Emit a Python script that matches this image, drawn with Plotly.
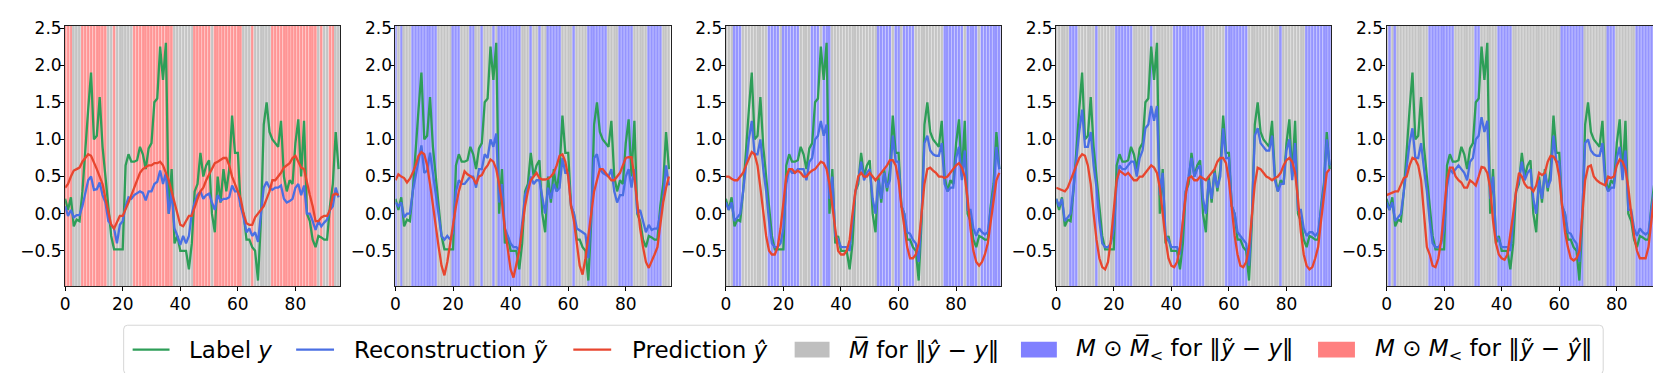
import plotly.graph_objects as go

W, H = 1661, 373

# ---------------- data ----------------
X = list(range(96))
X_TICKS = [0, 20, 40, 60, 80]
Y_TICKS = [-0.5, 0.0, 0.5, 1.0, 1.5, 2.0, 2.5]

LABEL_Y = [
    0.2, 0.05, 0.22, -0.17, -0.08, -0.1, 0.3, 0.9, 1.4, 1.9,
    1.0, 1.05, 1.57, 0.9, 0.5, 0.05, -0.3, -0.48, -0.48, -0.48,
    -0.48, 0.65, 0.8, 0.7, 0.7, 0.72, 0.9, 0.8, 0.6, 0.88,
    0.95, 1.5, 1.55, 2.25, 1.8, 2.3, 0.0, 0.6, -0.4, -0.3,
    -0.5, -0.5, -0.5, -0.75, -0.4, 0.3, 0.4, 0.82, 0.5, 0.65,
    0.72, 0.0, -0.25, 0.5, 0.15, 0.6, 0.3, 0.6, 1.32, 0.82,
    0.82, 0.1, 0.0, -0.35, -0.35, -0.45, -0.5, -0.9, -0.1, 1.2,
    1.5, 1.1, 1.0, 0.95, 0.9, 1.25, 0.5, 0.3, 0.45, 0.4,
    0.95, 1.27, 0.5, 1.25, 0.0, -0.1, -0.35, -0.45, -0.3, -0.32,
    -0.35, -0.35, 0.1, 0.4, 1.1, 0.6,
]

RECON_1 = [
    0.1, -0.03, 0.05, -0.05, -0.02, -0.02, 0.1, 0.3, 0.45, 0.5,
    0.32, 0.33, 0.42, 0.25, 0.15, -0.1, -0.15, -0.2, -0.4, -0.15,
    -0.1, 0.1, 0.22, 0.2, 0.25, 0.27, 0.3, 0.28, 0.18, 0.3,
    0.3, 0.4, 0.43, 0.58, 0.4, 0.55, 0.0, 0.3, -0.2, -0.3,
    -0.42, -0.3, -0.4, -0.3, 0.0, 0.15, 0.25, 0.3, 0.2, 0.25,
    0.27, 0.15, 0.05, 0.25, 0.17, 0.2, 0.2, 0.22, 0.38, 0.3,
    0.3, 0.1, -0.05, -0.25, -0.2, -0.3, -0.25, -0.38, 0.0, 0.35,
    0.43, 0.35, 0.32, 0.35, 0.35, 0.38, 0.2, 0.15, 0.17, 0.2,
    0.35, 0.4, 0.25, 0.38, 0.0, 0.0, -0.1, -0.22, -0.1, -0.17,
    -0.12, -0.08, 0.05, 0.1, 0.35, 0.22,
]
RECON_2 = [
    0.15, 0.1, 0.15, -0.05, 0.0, 0.0, 0.3, 0.5, 0.7, 0.92,
    0.55, 0.58, 0.82, 0.55, 0.3, 0.0, -0.3, -0.35, -0.3, -0.35,
    -0.25, 0.3, 0.45, 0.4, 0.4, 0.45, 0.5, 0.5, 0.35, 0.6,
    0.6, 0.8, 0.75, 1.0, 0.9, 1.08, 0.15, 0.4, -0.2, -0.3,
    -0.4, -0.45, -0.45, -0.5, -0.1, 0.25, 0.35, 0.5, 0.4, 0.45,
    0.45, 0.2, 0.0, 0.35, 0.2, 0.4, 0.3, 0.35, 0.75, 0.55,
    0.55, 0.1, 0.0, -0.2, -0.22, -0.25, -0.28, -0.6, 0.0, 0.75,
    0.8, 0.6, 0.55, 0.52, 0.5, 0.6, 0.3, 0.15, 0.25, 0.25,
    0.5, 0.6, 0.35, 0.6, 0.0, 0.05, -0.1, -0.25, -0.15, -0.22,
    -0.2, -0.2, 0.0, 0.2, 0.65, 0.38,
]
RECON_3 = [
    0.15, 0.05, 0.15, -0.1, -0.05, 0.0, 0.3, 0.65, 1.0, 1.25,
    0.8, 0.8, 1.0, 0.6, 0.3, -0.1, -0.4, -0.45, -0.45, -0.4,
    -0.2, 0.4, 0.6, 0.55, 0.55, 0.6, 0.6, 0.6, 0.45, 0.7,
    0.75, 1.0, 1.05, 1.25, 1.05, 1.2, 0.2, 0.5, -0.3, -0.35,
    -0.45, -0.45, -0.45, -0.5, -0.1, 0.3, 0.45, 0.7, 0.45, 0.55,
    0.6, 0.2, 0.0, 0.45, 0.2, 0.55, 0.35, 0.45, 1.05, 0.7,
    0.7, 0.1, 0.0, -0.25, -0.27, -0.35, -0.4, -0.65, 0.0, 0.95,
    1.05, 0.85, 0.8, 0.78, 0.78, 0.95, 0.4, 0.3, 0.35, 0.35,
    0.75, 0.9, 0.45, 0.85, 0.05, 0.05, -0.2, -0.3, -0.2, -0.25,
    -0.28, -0.25, 0.05, 0.3, 0.9, 0.6,
]
RECON_4 = [
    0.2, 0.1, 0.2, -0.1, -0.05, 0.0, 0.35, 0.75, 1.1, 1.4,
    0.9, 0.9, 1.1, 0.65, 0.35, -0.1, -0.4, -0.45, -0.45, -0.4,
    -0.2, 0.4, 0.65, 0.6, 0.6, 0.65, 0.7, 0.7, 0.5, 0.75,
    0.85, 1.15, 1.2, 1.45, 1.25, 1.45, 0.25, 0.55, -0.3, -0.35,
    -0.45, -0.45, -0.45, -0.55, -0.1, 0.3, 0.5, 0.75, 0.5, 0.6,
    0.65, 0.2, 0.0, 0.45, 0.2, 0.55, 0.35, 0.5, 1.15, 0.75,
    0.75, 0.1, 0.0, -0.25, -0.3, -0.35, -0.4, -0.7, 0.0, 1.05,
    1.15, 0.95, 0.9, 0.85, 0.85, 1.05, 0.45, 0.3, 0.4, 0.4,
    0.85, 1.0, 0.45, 0.95, 0.05, 0.05, -0.2, -0.3, -0.25, -0.25,
    -0.3, -0.25, 0.05, 0.35, 1.0, 0.65,
]
RECON_5 = [
    0.15, 0.05, 0.15, -0.1, -0.05, 0.0, 0.3, 0.6, 0.95, 1.15,
    0.75, 0.75, 0.95, 0.6, 0.3, -0.1, -0.4, -0.45, -0.45, -0.4,
    -0.2, 0.35, 0.6, 0.55, 0.6, 0.65, 0.6, 0.55, 0.45, 0.7,
    0.75, 1.0, 1.05, 1.3, 1.1, 1.25, 0.2, 0.5, -0.3, -0.35,
    -0.45, -0.45, -0.45, -0.5, -0.1, 0.3, 0.45, 0.7, 0.45, 0.55,
    0.6, 0.2, 0.0, 0.45, 0.2, 0.55, 0.35, 0.45, 1.05, 0.7,
    0.7, 0.1, 0.0, -0.25, -0.27, -0.35, -0.4, -0.65, 0.0, 0.95,
    1.0, 0.85, 0.8, 0.78, 0.78, 0.95, 0.4, 0.3, 0.35, 0.35,
    0.75, 0.9, 0.45, 0.85, 0.05, 0.05, -0.2, -0.3, -0.2, -0.25,
    -0.28, -0.25, 0.05, 0.3, 0.9, 0.6,
]

PRED_1 = [
    0.35, 0.4, 0.5, 0.58, 0.6, 0.62, 0.7, 0.75, 0.8, 0.78,
    0.7, 0.6, 0.5, 0.4, 0.2, 0.0, -0.15, -0.2, -0.12, -0.03,
    -0.03, 0.05, 0.15, 0.25, 0.35, 0.45, 0.55, 0.6, 0.63, 0.65,
    0.65, 0.68, 0.68, 0.7, 0.65, 0.55, 0.45, 0.3, 0.15, 0.0,
    -0.15, -0.17, -0.1, -0.03, -0.03, 0.1, 0.2, 0.3, 0.35, 0.45,
    0.52, 0.6, 0.68, 0.7, 0.72, 0.75, 0.75, 0.65, 0.5, 0.4,
    0.3, 0.2, 0.0, -0.13, -0.15, -0.15, -0.05, 0.0, 0.05, 0.1,
    0.2, 0.3, 0.45, 0.45, 0.5, 0.55, 0.62, 0.65, 0.68, 0.75,
    0.78, 0.7, 0.62, 0.6, 0.4, 0.25, 0.1, -0.1, -0.1, -0.05,
    -0.03, -0.03, 0.05, 0.25, 0.27, 0.25,
]
PRED_2 = [
    0.45, 0.53, 0.5, 0.48, 0.42, 0.47, 0.55, 0.65, 0.78, 0.83,
    0.8, 0.65, 0.4, 0.1, -0.2, -0.45, -0.7, -0.83, -0.65, -0.4,
    -0.1, 0.1, 0.3, 0.45, 0.57, 0.53, 0.5, 0.48, 0.4, 0.5,
    0.52, 0.6, 0.65, 0.73, 0.7, 0.6, 0.4, 0.15, -0.2, -0.5,
    -0.75, -0.86, -0.7, -0.5, -0.2, 0.1, 0.3, 0.45, 0.5, 0.55,
    0.48, 0.46, 0.46, 0.47, 0.5, 0.55, 0.65, 0.78, 0.8, 0.7,
    0.5, 0.1, -0.1, -0.4, -0.7, -0.82, -0.6, -0.3, 0.0, 0.3,
    0.45, 0.6, 0.6, 0.55, 0.5, 0.45, 0.45, 0.5, 0.55, 0.65,
    0.75, 0.76, 0.76, 0.5, 0.1, -0.2, -0.45, -0.65, -0.73, -0.65,
    -0.55, -0.45, -0.15, 0.15, 0.35, 0.5,
]
PRED_3 = [
    0.5, 0.5, 0.47, 0.45, 0.45, 0.5, 0.55, 0.65, 0.75, 0.83,
    0.8, 0.65, 0.35, 0.0, -0.3, -0.5, -0.55, -0.55, -0.45, -0.2,
    0.2, 0.5, 0.6, 0.6, 0.55, 0.58, 0.55, 0.5, 0.5, 0.55,
    0.58, 0.6, 0.65, 0.7, 0.68, 0.6, 0.4, 0.1, -0.25, -0.5,
    -0.55, -0.55, -0.5, -0.35, 0.0, 0.3, 0.5, 0.55, 0.5, 0.5,
    0.55, 0.5, 0.45, 0.5, 0.55, 0.6, 0.65, 0.72, 0.72, 0.65,
    0.45, 0.1, -0.2, -0.45, -0.6, -0.6, -0.55, -0.4, 0.0, 0.4,
    0.6, 0.62, 0.58, 0.55, 0.5, 0.5, 0.48, 0.5, 0.55, 0.6,
    0.65, 0.68, 0.62, 0.5, 0.2, -0.2, -0.5, -0.65, -0.7, -0.65,
    -0.55, -0.4, -0.1, 0.2, 0.45, 0.55,
]
PRED_4 = [
    0.35, 0.33, 0.32, 0.3, 0.35, 0.45, 0.55, 0.65, 0.75, 0.8,
    0.78, 0.65, 0.4, 0.0, -0.35, -0.6, -0.72, -0.75, -0.65, -0.35,
    0.1, 0.45, 0.58, 0.55, 0.52, 0.55, 0.5, 0.45, 0.45, 0.5,
    0.5, 0.55, 0.6, 0.65, 0.62, 0.55, 0.35, 0.0, -0.35, -0.6,
    -0.7, -0.72, -0.65, -0.45, -0.1, 0.25, 0.48, 0.5, 0.45, 0.45,
    0.5, 0.48, 0.45, 0.5, 0.55, 0.6, 0.7, 0.75, 0.75, 0.68,
    0.45, 0.05, -0.3, -0.55, -0.7, -0.72, -0.65, -0.45, 0.0, 0.4,
    0.62, 0.6, 0.55, 0.5, 0.48, 0.45, 0.48, 0.5, 0.55, 0.65,
    0.72, 0.75, 0.7, 0.55, 0.2, -0.25, -0.55, -0.7, -0.75, -0.72,
    -0.6, -0.45, -0.1, 0.25, 0.55, 0.6,
]
PRED_5 = [
    0.25, 0.27, 0.28, 0.3, 0.3, 0.4, 0.48, 0.5, 0.65, 0.75,
    0.73, 0.65, 0.45, 0.0, -0.45, -0.55, -0.7, -0.72, -0.6, -0.35,
    0.1, 0.45, 0.62, 0.62, 0.5, 0.45, 0.42, 0.35, 0.35, 0.45,
    0.42, 0.38, 0.5, 0.63, 0.62, 0.55, 0.35, -0.1, -0.4, -0.55,
    -0.6, -0.62, -0.55, -0.3, 0.0, 0.3, 0.55, 0.5, 0.4, 0.35,
    0.35, 0.3, 0.38, 0.55, 0.52, 0.55, 0.7, 0.78, 0.77, 0.7,
    0.5, 0.1, -0.25, -0.45, -0.6, -0.63, -0.6, -0.5, 0.0, 0.45,
    0.63, 0.65, 0.5, 0.45, 0.42, 0.4, 0.38, 0.5, 0.48, 0.5,
    0.65, 0.73, 0.7, 0.6, 0.35, 0.0, -0.3, -0.5, -0.6, -0.6,
    -0.6, -0.45, -0.1, 0.3, 0.6, 0.6,
]

# masks as (value, run length); 1 = coloured span, 0 = grey span
MASK_RUNS_1 = [(1, 3), (0, 3), (1, 9), (0, 2), (1, 1), (0, 6), (1, 14), (0, 7), (1, 6), (0, 1),
               (1, 10), (0, 3), (1, 1), (0, 6), (1, 16), (0, 1), (1, 1), (0, 2), (1, 2), (0, 2)]
MASK_RUNS_2 = [(1, 1), (0, 1), (1, 1), (0, 3), (1, 9), (0, 5), (1, 3), (0, 3), (1, 2), (0, 2),
               (1, 1), (0, 3), (1, 1), (0, 1), (1, 8), (0, 3), (1, 1), (0, 2), (1, 1), (0, 2),
               (1, 5), (0, 4), (1, 1), (0, 4), (1, 7), (0, 4), (1, 5), (0, 5), (1, 5), (0, 3)]
MASK_RUNS_3 = [(0, 3), (1, 3), (0, 9), (1, 4), (0, 1), (1, 6), (0, 4), (1, 3), (0, 1), (1, 3),
               (0, 16), (1, 5), (0, 1), (1, 2), (0, 1), (1, 4), (0, 10), (1, 7), (0, 1), (1, 4),
               (0, 1), (1, 7)]
MASK_RUNS_4 = [(0, 5), (1, 3), (0, 6), (1, 1), (0, 6), (1, 6), (0, 6), (1, 1), (0, 7), (1, 11),
               (0, 7), (1, 8), (0, 11), (1, 1), (0, 8), (1, 9)]
MASK_RUNS_5 = [(0, 1), (1, 1), (0, 1), (1, 1), (0, 11), (1, 9), (0, 7), (1, 2), (0, 6), (1, 5),
               (0, 17), (1, 8), (0, 8), (1, 3), (0, 7), (1, 9)]

RECONS = [RECON_1, RECON_2, RECON_3, RECON_4, RECON_5]
PREDS = [PRED_1, PRED_2, PRED_3, PRED_4, PRED_5]
MASKS = [MASK_RUNS_1, MASK_RUNS_2, MASK_RUNS_3, MASK_RUNS_4, MASK_RUNS_5]
MASK_KIND = ["red", "blue", "blue", "blue", "blue"]

LEGEND_TEXT = [
    "Label <i>y</i>",
    "Reconstruction <i>ỹ</i>",
    "Prediction <i>ŷ</i>",
    "<i>M̅</i> for ‖<i>ŷ</i> − <i>y</i>‖",
    "<i>M</i> ⊙ <i>M̅</i><sub>&lt;</sub> for ‖<i>ỹ</i> − <i>y</i>‖",
    "<i>M</i> ⊙ <i>M</i><sub>&lt;</sub> for ‖<i>ỹ</i> − <i>ŷ</i>‖",
]

# ---------------- style ----------------
GREEN = "#2e9e58"
BLUE = "#4a6fe3"
RED = "#e8462f"
SPAN_LIGHT = {"red": "#ffbfbf", "blue": "#bfbfff", "grey": "#dedede"}
SPAN_DARK = {"red": "#ff9595", "blue": "#9595ff", "grey": "#c4c4c4"}
PATCH = {"grey": "#bfbfbf", "blue": "#8080ff", "red": "#ff8080"}

Y_RANGE = [-0.975, 2.53]
X_RANGE = [0, 95.6]
PANEL_LEFT0 = 52.3
PANEL_STEP = 331.35
PANEL_W = 276.0
PANEL_TOP, PANEL_BOT = 10.0, 276.0


def expand(runs):
    out = []
    for v, n in runs:
        out.extend([v] * n)
    return out


def px(x):
    return x / W


def py(y):
    return 1 - y / H


fig = go.Figure()
layout = {}
tickfont = dict(family="DejaVu Sans", size=17, color="black")

for k in range(5):
    sfx = "" if k == 0 else str(k + 1)
    xa, ya = "x" + sfx, "y" + sfx
    mask = expand(MASKS[k])
    kind = MASK_KIND[k]
    light = [SPAN_LIGHT[kind] if m else SPAN_LIGHT["grey"] for m in mask]
    dark = [SPAN_DARK[kind] if m else SPAN_DARK["grey"] for m in mask]
    fig.add_trace(go.Bar(x=X, y=[10] * len(X), base=-5, width=1.0,
                         marker=dict(color=light, line=dict(width=0)),
                         xaxis=xa, yaxis=ya, showlegend=False, hoverinfo="skip"))
    fig.add_trace(go.Bar(x=X, y=[10] * len(X), base=-5, width=0.45,
                         marker=dict(color=dark, line=dict(width=0)),
                         xaxis=xa, yaxis=ya, showlegend=False, hoverinfo="skip"))
    for series, col in ((LABEL_Y, GREEN), (RECONS[k], BLUE), (PREDS[k], RED)):
        fig.add_trace(go.Scatter(x=X, y=series, mode="lines",
                                 line=dict(color=col, width=2.3),
                                 xaxis=xa, yaxis=ya, showlegend=False))
    x0 = PANEL_LEFT0 + PANEL_STEP * k
    layout["xaxis" + sfx] = dict(
        domain=[px(x0), px(x0 + PANEL_W)], range=X_RANGE, anchor=ya,
        tickvals=X_TICKS, ticks="outside", ticklen=4, tickcolor="black",
        ticklabelstandoff=-2,
        showline=True, mirror=True, linecolor="#222", linewidth=1.2,
        showgrid=False, zeroline=False, tickfont=tickfont, fixedrange=True)
    layout["yaxis" + sfx] = dict(
        domain=[py(PANEL_BOT), py(PANEL_TOP)], range=Y_RANGE, anchor=xa,
        tickvals=Y_TICKS, tickformat=".1f", ticks="outside", ticklen=4,
        tickcolor="black", ticklabelstandoff=-5,
        showline=True, mirror=True, linecolor="#222",
        linewidth=1.2, showgrid=False, zeroline=False, tickfont=tickfont,
        fixedrange=True)

# ---------------- manual legend ----------------
shapes = []
annotations = []
LX0, LX1, LY0, LY1 = 111, 1595, 316, 366
r = 4
path = (f"M {px(LX0 + r)},{py(LY0)} L {px(LX1 - r)},{py(LY0)} "
        f"Q {px(LX1)},{py(LY0)} {px(LX1)},{py(LY0 + r)} "
        f"L {px(LX1)},{py(LY1 - r)} Q {px(LX1)},{py(LY1)} {px(LX1 - r)},{py(LY1)} "
        f"L {px(LX0 + r)},{py(LY1)} Q {px(LX0)},{py(LY1)} {px(LX0)},{py(LY1 - r)} "
        f"L {px(LX0)},{py(LY0 + r)} Q {px(LX0)},{py(LY0)} {px(LX0 + r)},{py(LY0)} Z")
shapes.append(dict(type="path", xref="paper", yref="paper", path=path,
                   line=dict(color="#d6d6d6", width=1), fillcolor="white", layer="above"))

ROW_Y = 341
handles = [("line", GREEN, 120, 157, 175),
           ("line", BLUE, 284, 322, 340),
           ("line", RED, 562, 600, 619),
           ("patch", PATCH["grey"], 784, 819, 837),
           ("patch", PATCH["blue"], 1011, 1047, 1064),
           ("patch", PATCH["red"], 1309, 1346, 1364)]
for (kind, col, hx0, hx1, tx), txt in zip(handles, LEGEND_TEXT):
    if kind == "line":
        shapes.append(dict(type="line", xref="paper", yref="paper",
                           x0=px(hx0), x1=px(hx1), y0=py(ROW_Y), y1=py(ROW_Y),
                           line=dict(color=col, width=2.3), layer="above"))
    else:
        shapes.append(dict(type="rect", xref="paper", yref="paper",
                           x0=px(hx0), x1=px(hx1), y0=py(ROW_Y - 8), y1=py(ROW_Y + 8),
                           line=dict(width=0), fillcolor=col, layer="above"))
    annotations.append(dict(xref="paper", yref="paper", x=px(tx), y=py(ROW_Y),
                            xanchor="left", yanchor="middle", showarrow=False,
                            text=txt, font=dict(family="DejaVu Sans", size=23, color="black")))

fig.update_layout(
    width=W, height=H, margin=dict(l=0, r=0, t=0, b=0),
    paper_bgcolor="white", plot_bgcolor="white", barmode="overlay",
    showlegend=False, shapes=shapes, annotations=annotations, **layout)

fig.write_html("out.html")
